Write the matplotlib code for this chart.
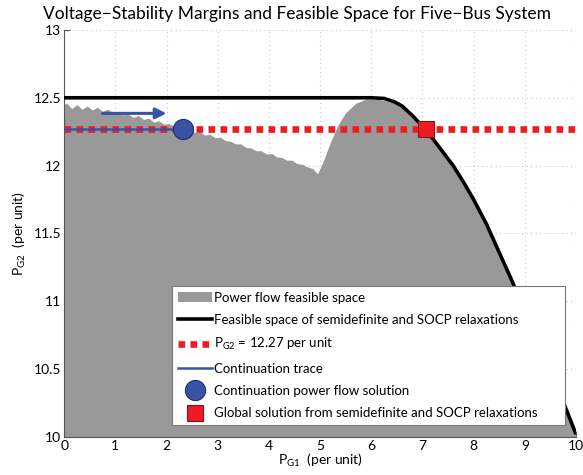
import numpy as np
import matplotlib
matplotlib.use("Agg")
from matplotlib import pyplot as plt
from matplotlib.lines import Line2D
from matplotlib.patches import Patch

plt.rcParams['font.family'] = ['Lato', 'DejaVu Sans']
plt.rcParams['mathtext.default'] = 'regular'

# upper edge of the power flow feasible space (scalloped part, then the hump)
gray_x = [0.0, 0.05, 0.15, 0.25, 0.35, 0.45, 0.55, 0.65, 0.75, 0.85, 0.95,
          1.05, 1.15, 1.25, 1.35, 1.45, 1.55, 1.65, 1.75, 1.85, 1.95,
          2.05, 2.15, 2.25, 2.35, 2.45, 2.55, 2.65, 2.75, 2.85, 2.95,
          3.05, 3.15, 3.25, 3.35, 3.45, 3.55, 3.65, 3.75, 3.85, 3.95,
          4.05, 4.15, 4.25, 4.35, 4.45, 4.55, 4.65, 4.75, 4.85, 4.95,
          5.05, 5.2, 5.35, 5.5, 5.7, 5.9, 6.1, 6.25, 6.45, 6.6, 6.8,
          7.0, 7.2, 7.4, 7.6, 7.8, 8.0, 8.25, 8.5, 8.75, 9.0, 9.25,
          9.5, 9.75, 10.0]
gray_y = [12.45, 12.46, 12.42, 12.45, 12.415, 12.44, 12.41, 12.43, 12.40, 12.415, 12.39,
          12.40, 12.375, 12.38, 12.355, 12.37, 12.34, 12.35, 12.32, 12.33, 12.305,
          12.31, 12.285, 12.29, 12.265, 12.27, 12.245, 12.25, 12.225, 12.23, 12.205,
          12.21, 12.185, 12.18, 12.16, 12.16, 12.135, 12.13, 12.11, 12.11, 12.085,
          12.09, 12.065, 12.06, 12.04, 12.04, 12.015, 12.01, 11.99, 11.98, 11.94,
          12.02, 12.17, 12.30, 12.39, 12.46, 12.49, 12.49, 12.48, 12.46, 12.43, 12.36,
          12.28, 12.19, 12.09, 11.99, 11.87, 11.74, 11.56, 11.35, 11.14, 10.92, 10.70,
          10.47, 10.25, 10.01]

# boundary of the semidefinite / SOCP relaxation feasible space
relax_x = [0.0, 6.0, 6.25, 6.45, 6.6, 6.8, 7.0, 7.2, 7.4, 7.6, 7.8, 8.0,
           8.25, 8.5, 8.75, 9.0, 9.25, 9.5, 9.75, 10.0]
relax_y = [12.5, 12.5, 12.495, 12.47, 12.44, 12.37, 12.29, 12.20, 12.10, 12.00,
           11.88, 11.75, 11.57, 11.36, 11.15, 10.93, 10.71, 10.48, 10.26, 10.02]

pg2_level = 12.27
cont_x = [0.0, 2.33]
cont_y = [12.27, 12.27]
arrow_start = (0.75, 12.385)
arrow_end = (2.0, 12.385)
cpf_sol = (2.33, 12.27)
sdp_sol = (7.07, 12.27)

gray = '#999999'
blue = '#3953a4'
red = '#ed1c24'

fig = plt.figure(figsize=(5.83, 4.75), dpi=100)
ax = fig.add_axes([0.110, 0.080, 0.878, 0.857])

ax.fill_between(gray_x, 10, gray_y, color=gray, lw=0, zorder=1)
ax.plot(relax_x, relax_y, color='k', lw=2.6, zorder=3, solid_capstyle='butt')
ax.axhline(pg2_level, color=red, lw=4.8, linestyle=(0, (1, 0.8)),
           dash_capstyle='butt', zorder=4)
ax.plot(cont_x, cont_y, color=blue, lw=1.8, zorder=5)
ax.annotate('', xy=arrow_end, xytext=arrow_start,
            arrowprops=dict(arrowstyle='-|>', color=blue, lw=2.2,
                            mutation_scale=16, shrinkA=0, shrinkB=0), zorder=5)
ax.plot(*cpf_sol, 'o', ms=14.5, mfc=blue, mec='#1f2f66', mew=0.8, zorder=6)
ax.plot(*sdp_sol, 's', ms=11, mfc=red, mec='#8a1015', mew=0.8, zorder=6)

ax.set_xlim(0, 10)
ax.set_ylim(10, 13)
ax.set_xticks(range(0, 11))
ax.set_yticks([10, 10.5, 11, 11.5, 12, 12.5, 13])
ax.set_yticklabels(['10', '10.5', '11', '11.5', '12', '12.5', '13'])
ax.grid(True, color='#c8c8c8', linestyle=(0, (1, 3)), lw=0.8)
ax.set_axisbelow(True)
for s in ['top', 'right']:
    ax.spines[s].set_visible(False)
for s in ['left', 'bottom']:
    ax.spines[s].set_color('#555555')
    ax.spines[s].set_linewidth(0.8)
ax.tick_params(direction='in', labelsize=10, length=4, color='#555555', pad=2)

ax.set_title('Voltage\u2212Stability Margins and Feasible Space for Five\u2212Bus System',
             fontsize=12.5, pad=8, x=0.455)
ax.set_xlabel(r'P$_{G1}$  (per unit)', fontsize=10, labelpad=0)
ax.set_ylabel(r'P$_{G2}$  (per unit)', fontsize=10, labelpad=4)

handles = [
    Patch(facecolor=gray, edgecolor='none'),
    Line2D([], [], color='k', lw=2.6),
    Line2D([], [], color=red, lw=4.8, linestyle=(0, (1, 0.8)), dash_capstyle='butt'),
    Line2D([], [], color=blue, lw=1.8),
    Line2D([], [], ls='none', marker='o', ms=14.5, mfc=blue, mec='#1f2f66', mew=0.8),
    Line2D([], [], ls='none', marker='s', ms=11, mfc=red, mec='#8a1015', mew=0.8),
]
labels = ['Power flow feasible space',
          'Feasible space of semidefinite and SOCP relaxations',
          r'P$_{G2}$ = 12.27 per unit',
          'Continuation trace',
          'Continuation power flow solution',
          'Global solution from semidefinite and SOCP relaxations']
leg = ax.legend(handles, labels, loc='lower left', bbox_to_anchor=(0.211, 0.029, 0.768, 0.349),
                mode='expand', fontsize=9.5, frameon=True, fancybox=False,
                framealpha=1, edgecolor='#777777', handlelength=2.6,
                handletextpad=0.15, borderpad=0.45, labelspacing=0.78, borderaxespad=0)
leg.get_frame().set_linewidth(0.8)
leg.set_zorder(10)

fig.savefig('out.png', dpi=100)
